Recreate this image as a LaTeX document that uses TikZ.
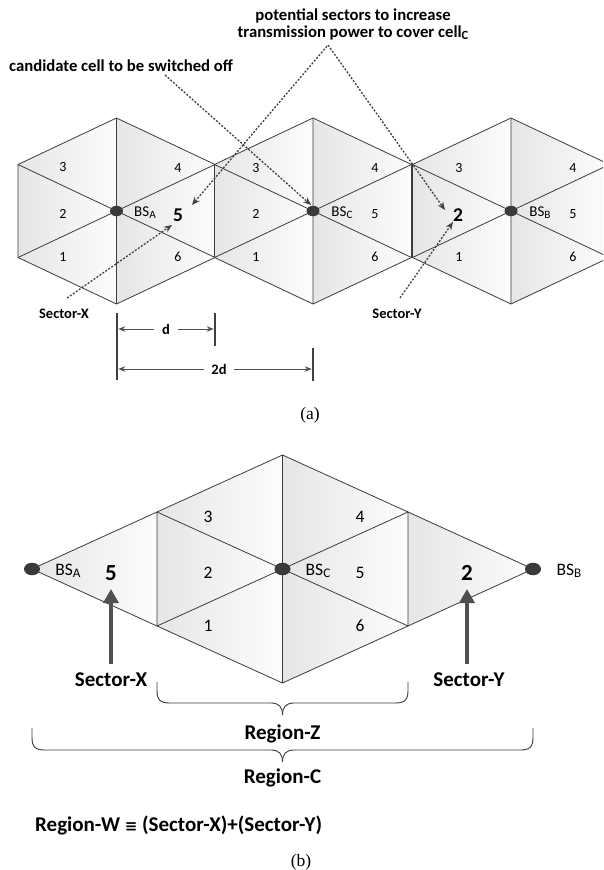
\documentclass[tikz,border=0pt]{standalone}
\usepackage{fontspec}
\usepackage{graphicx}
\setmainfont{Carlito}
\newfontfamily\capfont{Liberation Serif}
\newfontfamily\symfont{DejaVu Sans}
\usetikzlibrary{arrows.meta,shapes.geometric}
\definecolor{edgegray}{HTML}{3C3C3C}
\definecolor{dotgray}{HTML}{3A3A3A}
\definecolor{arrgray}{HTML}{404040}
\definecolor{dimgray}{HTML}{505050}
\newcommand{\lowsub}[1]{\raisebox{-0.3ex}{\scalebox{0.75}{#1}}}
\newcommand{\hexcell}[4]{%
  \coordinate (O) at (#1,#2);
  \coordinate (T) at (#1,#2-2*#4);
  \coordinate (UR) at (#1+#3,#2-#4);
  \coordinate (LR) at (#1+#3,#2+#4);
  \coordinate (B) at (#1,#2+2*#4);
  \coordinate (LL) at (#1-#3,#2+#4);
  \coordinate (UL) at (#1-#3,#2-#4);
  \shade[secshade] (O)--(UL)--(T)--cycle;
  \shade[secshade] (O)--(T)--(UR)--cycle;
  \shade[secshade] (O)--(UR)--(LR)--cycle;
  \shade[secshade] (O)--(LR)--(B)--cycle;
  \shade[secshade] (O)--(B)--(LL)--cycle;
  \shade[secshade] (O)--(LL)--(UL)--cycle;
  \draw[celledge] (T)--(UR)--(LR)--(B)--(LL)--(UL)--cycle;
  \draw[celledge] (T)--(B) (UL)--(LR) (LL)--(UR);
}
\begin{document}
\begin{tikzpicture}[x=1pt,y=-1pt,
  secshade/.style={left color=black!10, right color=black!1},
  celledge/.style={draw=edgegray, line width=0.8pt, line join=miter},
  num/.style={font=\fontsize{14}{15}\selectfont, inner sep=0},
  bignum/.style={font=\bfseries\fontsize{19.5}{20}\selectfont, inner sep=0},
  numb/.style={font=\fontsize{17.5}{18}\selectfont, inner sep=0},
  bignumb/.style={font=\bfseries\fontsize{23}{23}\selectfont, inner sep=0},
  bslab/.style={font=\fontsize{15}{16}\selectfont, inner sep=0},
  bslabb/.style={font=\fontsize{17.5}{18}\selectfont, inner sep=0},
  lab/.style={font=\bfseries\fontsize{16.7}{19}\selectfont, inner sep=0, align=center},
  labs/.style={font=\bfseries\fontsize{14.5}{16}\selectfont, inner sep=0},
  labb/.style={font=\bfseries\fontsize{21}{22}\selectfont, inner sep=0},
  captxt/.style={font=\capfont\fontsize{17.5}{18}\selectfont, inner sep=0},
  bsdot/.style={ellipse, fill=dotgray, inner sep=0, minimum width=13pt, minimum height=10.5pt},
  bsdotb/.style={ellipse, fill=dotgray, inner sep=0, minimum width=16pt, minimum height=12.5pt},
  dasharr/.style={draw=arrgray, line width=1.3pt, dash pattern=on 2pt off 1.6pt, -{Stealth[length=8pt,width=6.5pt]}},
  dimarr/.style={draw=dimgray, line width=0.9pt, -{Stealth[length=7pt,width=5.5pt]}},
  dimbar/.style={draw=arrgray, line width=2.6pt},
  thickarr/.style={draw=dimgray, line width=3.6pt, -{Triangle[length=14pt,width=15pt]}},
  bracel/.style={draw=edgegray, line width=0.9pt}
]
\fill[white] (0,0) rectangle (603,870);
\useasboundingbox (0,0) rectangle (603,870);

% ---------------- (a) ----------------
\begin{scope}
\clip (0,0) rectangle (603,870);
\hexcell{116.5}{211}{98.5}{46.5}
\hexcell{313}{211}{98.5}{46.5}
\hexcell{511}{211}{98.5}{46.5}
\end{scope}

\node[bsdot] (bsA) at (116.5,211) {};
\node[bsdot] (bsC) at (313,211) {};
\node[bsdot] (bsB) at (511,211) {};

\node[bslab] (bsAl) at (145,213) {BS\lowsub{A}};
\node[bslab] (bsCl) at (342,213) {BS\lowsub{C}};
\node[bslab] (bsBl) at (540,213) {BS\lowsub{B}};

% hex A
\node[num] (a3) at (63,167) {3};
\node[num] (a2) at (63,214) {2};
\node[num] (a1) at (63,257) {1};
\node[num] (a4) at (178,168) {4};
\node[bignum] (a5) at (178,215) {5};
\node[num] (a6) at (178,257) {6};
% hex C
\node[num] (c3) at (256,168) {3};
\node[num] (c2) at (256,214) {2};
\node[num] (c1) at (256,257) {1};
\node[num] (c4) at (375,168) {4};
\node[num] (c5) at (375,214) {5};
\node[num] (c6) at (375,257) {6};
% hex B
\node[num] (b3) at (459,168) {3};
\node[bignum] (b2) at (458,215) {2};
\node[num] (b1) at (459,257) {1};
\node[num] (b4) at (573,168) {4};
\node[num] (b5) at (573,214) {5};
\node[num] (b6) at (573,257) {6};

% annotations
\node[lab, anchor=west] (cand) at (9,66) {candidate cell to be switched off};
\node[lab] (pot) at (353,24) {potential sectors to increase\\[-2pt]transmission power to cover cell\lowsub{C}};
\coordinate (candS) at (165,75);
\coordinate (candT) at (311,205);
\draw[dasharr] (candS) -- (candT);
\coordinate (apex) at (328,45);
\coordinate (potL) at (192,205);
\coordinate (potR) at (445,210);
\draw[dasharr, {Stealth[length=8pt,width=6.5pt]}-{Stealth[length=8pt,width=6.5pt]}] (potL) -- (apex) -- (potR);

\node[labs] (secX) at (64,314) {Sector-X};
\node[labs] (secY) at (397,314) {Sector-Y};
\coordinate (sxS) at (67,298);
\coordinate (sxT) at (172,225);
\draw[dasharr] (sxS) -- (sxT);
\coordinate (syS) at (400,298);
\coordinate (syT) at (453,222);
\draw[dasharr] (syS) -- (syT);

% dimensions
\coordinate (bar1t) at (117,313); \coordinate (bar1b) at (117,380);
\coordinate (bar2t) at (215,313); \coordinate (bar2b) at (215,346);
\coordinate (bar3t) at (313,348); \coordinate (bar3b) at (313,381);
\draw[dimbar] (bar1t) -- (bar1b);
\draw[dimbar] (bar2t) -- (bar2b);
\draw[dimbar] (bar3t) -- (bar3b);
\node[labs, inner xsep=8pt] (dlab) at (166,329) {d};
\coordinate (d1) at (118.3,329); \coordinate (d2) at (213.7,329);
\draw[dimarr] (dlab) -- (d1);
\draw[dimarr] (dlab) -- (d2);
\node[labs, inner xsep=7pt] (ddlab) at (219,369) {2d};
\coordinate (dd1) at (118.3,369); \coordinate (dd2) at (311.7,369);
\draw[dimarr] (ddlab) -- (dd1);
\draw[dimarr] (ddlab) -- (dd2);

\node[captxt] (capa) at (310,415) {(a)};

% ---------------- (b) ----------------
\coordinate (pA) at (32,569);
\coordinate (pB) at (533,569);
\coordinate (lUp) at (157,512);
\coordinate (lDn) at (157,626);
\coordinate (rUp) at (408,512);
\coordinate (rDn) at (408,626);
\shade[secshade] (pA) -- (lUp) -- (lDn) -- cycle;
\shade[secshade] (rUp) -- (pB) -- (rDn) -- cycle;
\hexcell{282.5}{569}{125.5}{57}
\draw[celledge] (lUp) -- (pA) -- (lDn);
\draw[celledge] (rUp) -- (pB) -- (rDn);

\node[bsdotb] (bbsA) at (pA) {};
\node[bsdotb] (bbsC) at (282.5,569) {};
\node[bsdotb] (bbsB) at (pB) {};
\node[bslabb] (bbsAl) at (68,571) {BS\lowsub{A}};
\node[bslabb] (bbsCl) at (318,571) {BS\lowsub{C}};
\node[bslabb] (bbsBl) at (569,571) {BS\lowsub{B}};

\node[numb] (q3) at (208,517) {3};
\node[numb] (q2) at (208,573) {2};
\node[numb] (q1) at (208,626) {1};
\node[numb] (q4) at (360,517) {4};
\node[numb] (q5) at (360,573) {5};
\node[numb] (q6) at (360,626) {6};
\node[bignumb] (qx5) at (111,573) {5};
\node[bignumb] (qy2) at (467,573) {2};

\coordinate (tx) at (111,589); \coordinate (bx) at (111,664);
\coordinate (ty) at (467,589); \coordinate (by) at (467,664);
\draw[thickarr] (bx) -- (tx);
\draw[thickarr] (by) -- (ty);
\node[labb] (bsecX) at (111,680) {Sector-X};
\node[labb] (bsecY) at (469,680) {Sector-Y};

% braces
\coordinate (zL) at (157,682); \coordinate (zR) at (408,682); \coordinate (zT) at (282.5,715);
\draw[bracel] (zL) -- (157,690) .. controls (157,700) and (160,703) .. (170,703)
  -- (271,703) .. controls (279,703) and (282.5,707) .. (zT);
\draw[bracel] (zR) -- (408,690) .. controls (408,700) and (405,703) .. (395,703)
  -- (294,703) .. controls (286,703) and (282.5,707) .. (zT);
\node[labb] (regZ) at (282.5,734) {Region-Z};

\coordinate (cL) at (32,728); \coordinate (cR) at (533,728); \coordinate (cT) at (282.5,762);
\draw[bracel] (cL) -- (32,737) .. controls (32,747) and (35,750) .. (45,750)
  -- (271,750) .. controls (279,750) and (282.5,754) .. (cT);
\draw[bracel] (cR) -- (533,737) .. controls (533,747) and (530,750) .. (520,750)
  -- (294,750) .. controls (286,750) and (282.5,754) .. (cT);
\node[labb] (regC) at (282.5,778) {Region-C};

\node[labb, anchor=west] (regW) at (35,825) {Region-W {\symfont\fontsize{15}{15}\selectfont ≡} (Sector-X)+(Sector-Y)};

\node[captxt] (capb) at (301,862) {(b)};
\end{tikzpicture}
\end{document}
